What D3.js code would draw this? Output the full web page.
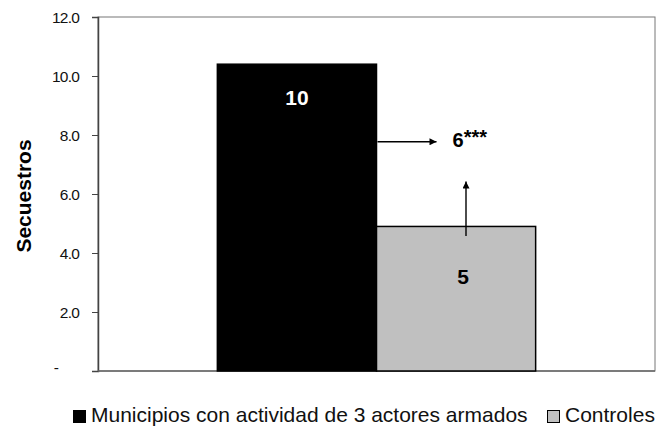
<!DOCTYPE html>
<html>
<head>
<meta charset="utf-8">
<script src="https://cdn.jsdelivr.net/npm/d3@7"></script>
<style>
  body { margin: 0; background: #fff; }
  svg { font-family: "Liberation Sans", Arial, sans-serif; }
</style>
</head>
<body>
<svg width="660" height="428"></svg>
<script>
const series = ["Municipios con actividad de 3 actores armados", "Controles"];
const values = [10.4, 4.9];
const valueLabels = ["10", "5"];
const colors = ["#000000", "#c0c0c0"];
const yTicks = [0, 2, 4, 6, 8, 10, 12];
const diffLabel = "6";
const arrowLevel = 7.77;           // horizontal arrow height (data units)
const upArrow = [4.58, 6.42];      // vertical arrow from/to (data units)

const svg = d3.select("svg");
const margin = { top: 17, right: 5, bottom: 57, left: 98 };
const width = +svg.attr("width") - margin.left - margin.right;
const height = +svg.attr("height") - margin.top - margin.bottom;

const g = svg.append("g")
  .attr("transform", `translate(${margin.left},${margin.top})`);

const y = d3.scaleLinear().domain([0, 12]).range([height, 0]);
const x = d3.scaleBand().domain(series).range([0, width])
  .paddingInner(0).paddingOuter(0.75);

svg.append("defs").append("marker")
  .attr("id", "arr")
  .attr("viewBox", "0 0 10 10")
  .attr("refX", 10).attr("refY", 5)
  .attr("markerWidth", 8).attr("markerHeight", 7)
  .attr("markerUnits", "userSpaceOnUse")
  .attr("orient", "auto")
  .append("path").attr("d", "M0,0L10,5L0,10Z").attr("fill", "#000");

// plot border
g.append("rect")
  .attr("width", width).attr("height", height)
  .attr("fill", "none").attr("stroke", "#777").attr("stroke-width", 1);

const yAxis = d3.axisLeft(y).tickValues(yTicks).tickSize(6).tickPadding(13)
  .tickFormat(d => d === 0 ? "-" : d3.format(".1f")(d));
const ya = g.append("g").call(yAxis);
ya.select(".domain").attr("stroke", "#444").attr("stroke-width", 1.5);
ya.selectAll(".tick line").attr("stroke", "#444");
ya.selectAll(".tick text")
  .attr("font-size", 15.5).attr("fill", "#111")
  .attr("letter-spacing", "-0.8px")
  .attr("dy", "0.36em");
ya.selectAll(".tick").filter(d => d === 0).select("text")
  .attr("x", -40).attr("dy", "0.1em");

g.append("line")
  .attr("x1", 0).attr("x2", width).attr("y1", height).attr("y2", height)
  .attr("stroke", "#666").attr("stroke-width", 1.5);

g.selectAll(".bar")
  .data(values)
  .enter().append("rect")
  .attr("x", (d, i) => x(series[i]))
  .attr("y", d => y(d))
  .attr("width", x.bandwidth())
  .attr("height", d => height - y(d))
  .attr("fill", (d, i) => colors[i])
  .attr("stroke", "#000").attr("stroke-width", 1.5);

g.selectAll(".vlab")
  .data(values)
  .enter().append("text")
  .attr("x", (d, i) => x(series[i]) + x.bandwidth() / 2 + (i === 0 ? 0 : 7))
  .attr("y", (d, i) => i === 0 ? y(d) + 41 : y(d) + 58)
  .attr("text-anchor", "middle")
  .attr("font-size", 21).attr("font-weight", "bold")
  .attr("fill", (d, i) => i === 0 ? "#fff" : "#000")
  .text((d, i) => valueLabels[i]);

// annotation arrows
const x0 = x(series[1]);
g.append("line")
  .attr("x1", x0 + 1).attr("x2", x0 + 60)
  .attr("y1", y(arrowLevel)).attr("y2", y(arrowLevel))
  .attr("stroke", "#000").attr("stroke-width", 1.4)
  .attr("marker-end", "url(#arr)");

const ax = x0 + 89.5;
g.append("line")
  .attr("x1", ax).attr("x2", ax)
  .attr("y1", y(upArrow[0])).attr("y2", y(upArrow[1]))
  .attr("stroke", "#000").attr("stroke-width", 1.4)
  .attr("marker-end", "url(#arr)");

const t = g.append("text")
  .attr("x", x0 + 76).attr("y", y(arrowLevel) + 5.5)
  .attr("font-size", 20).attr("font-weight", "bold");
t.append("tspan").text(diffLabel);
t.append("tspan").attr("dy", -3).text("***");

// y title
svg.append("text")
  .attr("transform", `translate(31,196) rotate(-90)`)
  .attr("text-anchor", "middle")
  .attr("font-size", 21).attr("font-weight", "bold")
  .text("Secuestros");

// legend
const legend = svg.append("g").attr("transform", "translate(73,410)");
const lx = [0, 474];
series.forEach((s, i) => {
  const lg = legend.append("g").attr("transform", `translate(${lx[i]},0)`);
  lg.append("rect").attr("x", 0.5).attr("y", 0.5).attr("width", 12).attr("height", 12)
    .attr("fill", colors[i]).attr("stroke", "#000").attr("stroke-width", 1);
  lg.append("text").attr("x", 18).attr("y", 12)
    .attr("font-size", 21).attr("fill", "#111")
    .text(s);
});
</script>
</body>
</html>
